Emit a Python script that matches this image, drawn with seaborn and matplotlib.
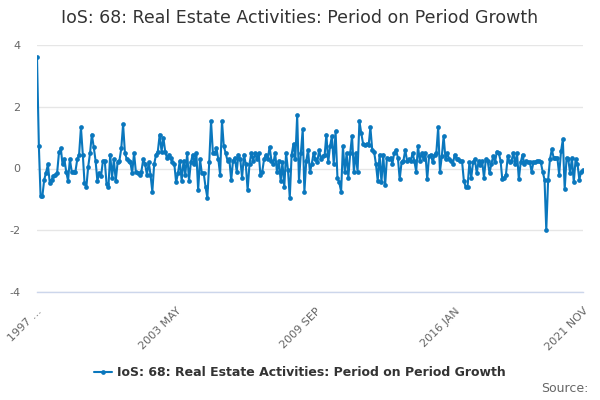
import matplotlib
matplotlib.use("Agg")
import matplotlib.pyplot as plt
import seaborn as sns
import pandas as pd
import numpy as np
from matplotlib.lines import Line2D

# ---- data (monthly, 1997 JAN .. 2021 NOV) ----
seg_1997 = [3.6, 0.73, -0.88, -0.88, -0.36, -0.13, 0.13, -0.46, -0.36, -0.25,
            -0.2, -0.15, 0.52, 0.65, 0.13, 0.3, -0.1, -0.4, 0.3, -0.1,
            -0.1, -0.1, 0.3, 0.45, 1.33, 0.45, -0.46, -0.6, 0.05, 0.5,
            1.1, 0.7, 0.25, -0.4, -0.15, -0.25, 0.25, 0.25, -0.5, -0.6,
            0.45, -0.3, 0.3, -0.4, 0.2, 0.25, 0.65, 1.43, 0.5, 0.3, 0.25]
seg_2001 = [0.2, -0.15, 0.5, -0.1, -0.13, -0.2, -0.1, 0.3, 0.15, -0.2,
            0.2, -0.2, -0.75, 0.13, 0.45, 0.55, 1.1, 0.55, 1.0, 0.55,
            0.33, 0.45, 0.33, 0.2, 0.15, -0.45, -0.15, 0.25, -0.4, 0.25,
            -0.2, 0.5, -0.4, 0.2, 0.45, 0.15, 0.5, -0.7, 0.3, -0.15,
            -0.15, -0.6, -0.95, 0.2, 1.53, 0.5, 0.5, 0.65, 0.3, -0.2, 1.53]
seg_2005 = [0.72, 0.5, 0.25, 0.3, -0.38, 0.25, 0.35, -0.1, 0.45, 0.3,
            -0.3, 0.45, 0.15, -0.7, 0.15, 0.5, 0.25, 0.5, 0.3, 0.5,
            -0.2, -0.1, 0.3, 0.45, 0.3, 0.7, 0.25, 0.15, 0.5, -0.1,
            0.25, -0.4, 0.2, -0.6, 0.5, -0.05, -0.95, 0.45, 0.8, 0.3,
            1.72, -0.4, 0.5, 1.27, -0.75, 0.25, 0.6, -0.12, 0.15, 0.5, 0.3]
seg_2009 = [0.2, 0.6, 0.3, 0.4, 0.45, 1.1, 0.2, 0.72, 1.05, 0.15,
            1.2, -0.3, -0.45, -0.75, 0.72, -0.1, 0.5, -0.3, 0.5, 1.05,
            -0.1, 0.5, -0.1, 1.53, 1.15, 0.8, 0.75, 0.8, 0.75, 1.33,
            0.6, 0.55, 0.15, -0.4, 0.45, -0.45, 0.45, -0.55, 0.35, 0.3,
            0.35, 0.15, 0.5, 0.6, 0.35, -0.35, 0.2, 0.25, 0.6, 0.25, 0.3]
seg_2013 = [0.25, 0.5, 0.25, -0.1, 0.72, 0.25, 0.5, 0.3, 0.5, -0.35,
            0.4, 0.45, 0.2, 0.45, 0.5, 1.33, -0.1, 0.4, 1.05, 0.3,
            0.5, 0.3, 0.25, 0.15, 0.45, 0.3, 0.3, 0.25, 0.25, -0.4,
            -0.6, -0.6, 0.2, -0.3, 0.2, 0.3, -0.15, 0.25, 0.1, 0.25,
            -0.3, 0.3, 0.25, -0.15, 0.15, 0.4, 0.2, 0.55, 0.5, 0.25, -0.35]
seg_2018 = [-0.3, -0.2, 0.4, 0.2, 0.25, 0.5, 0.15, 0.5, -0.35, 0.2,
            0.45, 0.15, 0.25, 0.2, 0.2, -0.1, 0.2, 0.2, 0.25, 0.25,
            0.2, -0.1, -0.36, -2.0, -0.36, 0.3, 0.62, 0.35, 0.35, 0.35,
            -0.2, 0.56, 0.94, -0.68, 0.35, 0.3, -0.15, 0.35, -0.45, 0.3,
            0.15, -0.36, -0.1, -0.05]

values = seg_1997 + seg_2001 + seg_2005 + seg_2009 + seg_2013 + seg_2018
start_month = "1997-01-01"
tick_step_months = 19
label_every = 4
first_label = "1997 ..."
series_name = "IoS: 68: Real Estate Activities: Period on Period Growth"
title = "IoS: 68: Real Estate Activities: Period on Period Growth"
y_ticks = [-4, -2, 0, 2, 4]

dates = pd.date_range(start_month, periods=len(values), freq="MS")
df = pd.DataFrame({"date": dates, "value": values})

# ---- style ----
sns.set_theme(style="white")
plt.rcParams["font.family"] = ["DejaVu Sans"]

line_color = "#0a77bd"
grid_color = "#e6e6e6"
axis_color = "#ccd6eb"
label_color = "#666666"
text_color = "#333333"

fig = plt.figure(figsize=(6, 4), dpi=100)
ax = fig.add_axes([37 / 600, 1 - 292 / 400, (583 - 37) / 600, (292 - 45) / 400])

sns.lineplot(data=df, x="date", y="value", ax=ax, color=line_color,
             linewidth=1.5, marker="o", markersize=3.4, markeredgewidth=0,
             legend=False)

ax.set_ylim(-4, 4)
ax.set_xlim(dates[0], dates[-1])
ax.set_yticks(y_ticks)
ax.set_yticklabels([str(v) for v in y_ticks])
ax.yaxis.grid(True, color=grid_color, linewidth=1)
ax.xaxis.grid(False)
ax.set_axisbelow(True)

# x ticks every 19 months, plus the final month
tick_idx = list(range(0, len(dates), tick_step_months))
if tick_idx[-1] != len(dates) - 1:
    tick_idx.append(len(dates) - 1)
label_idx = set(range(0, len(dates), tick_step_months * label_every)) | {len(dates) - 1}
ax.set_xticks([dates[i] for i in tick_idx])
labels = []
for i in tick_idx:
    if i in label_idx:
        if i == 0:
            labels.append(first_label)
        else:
            labels.append(dates[i].strftime("%Y %b").upper())
    else:
        labels.append("")
ax.set_xticklabels(labels, rotation=45, ha="right", rotation_mode="anchor")

for s in ["top", "right", "left"]:
    ax.spines[s].set_visible(False)
ax.spines["bottom"].set_color(axis_color)
ax.spines["bottom"].set_linewidth(1)
ax.tick_params(axis="x", colors=label_color, labelsize=8, length=7,
               width=1, color=axis_color, direction="out", pad=3)
ax.tick_params(axis="y", colors=label_color, labelsize=8, length=0, pad=12)
ax.set_xlabel("")
ax.set_ylabel("")

fig.text(0.5, 1 - 18 / 400, title, ha="center", va="center",
         fontsize=12.5, color=text_color)

handle = Line2D([0], [0], color=line_color, linewidth=1.5, marker="o",
                markersize=3.4, markeredgewidth=0)
fig.legend([handle], [series_name], loc="center", bbox_to_anchor=(0.5, 1 - 373 / 400),
           frameon=False, prop={"weight": "bold", "size": 9}, labelcolor=text_color,
           handlelength=1.4, handletextpad=0.4)

fig.text(588 / 600, 1 - 388 / 400, "Source:", ha="right", va="center",
         fontsize=9, color=label_color)

fig.savefig("out.png", dpi=100)
